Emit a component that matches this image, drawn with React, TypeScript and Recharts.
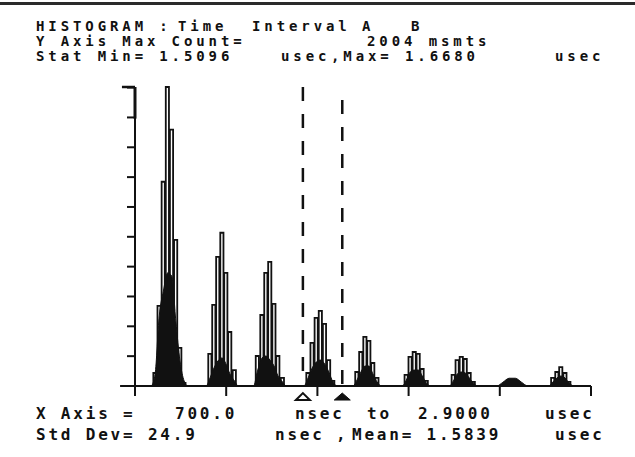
import React from "react";
import {
  ComposedChart,
  Bar,
  Area,
  XAxis,
  YAxis,
  ReferenceLine,
  ReferenceDot,
} from "recharts";

// Bin centres (ns), total counts per bin, and the dense (dark) part per bin
const binTimes = [
  780, 797, 817, 837, 857, 877, 897, 917, 937, 955,
  1043, 1062, 1081, 1100, 1120, 1139, 1158, 1180, 1198,
  1272, 1291, 1313, 1332, 1351, 1371, 1390, 1412, 1430,
  1515, 1535, 1555, 1575, 1595, 1615, 1635, 1655, 1675,
  1752, 1771, 1790, 1810, 1829, 1848, 1868, 1888,
  1990, 2009, 2028, 2048, 2067, 2086, 2106, 2125,
  2217, 2236, 2255, 2275, 2294, 2313, 2333, 2352,
  2445, 2475, 2505, 2535, 2565, 2595,
  2696, 2716, 2736, 2755, 2775, 2794, 2814,
];
const binCounts = [
  0, 87, 537, 1369, 2004, 1718, 980, 255, 20, 0,
  0, 215, 544, 866, 1027, 758, 362, 107, 0,
  0, 201, 476, 758, 832, 550, 201, 54, 0,
  0, 87, 289, 456, 503, 416, 174, 34, 0,
  0, 94, 228, 329, 302, 154, 54, 0,
  0, 74, 195, 228, 215, 114, 34, 0,
  0, 74, 174, 195, 181, 87, 27, 0,
  0, 0, 0, 0, 0, 0,
  0, 54, 94, 127, 87, 27, 0,
];
const denseCounts = [
  0, 80, 470, 637, 758, 738, 436, 168, 34, 0,
  0, 54, 121, 168, 188, 148, 81, 34, 0,
  0, 101, 188, 201, 174, 134, 67, 27, 0,
  0, 54, 121, 161, 174, 148, 94, 27, 0,
  0, 40, 94, 134, 134, 81, 27, 0,
  0, 40, 94, 107, 107, 67, 20, 0,
  0, 34, 81, 94, 87, 54, 20, 0,
  0, 25, 52, 52, 25, 0,
  0, 27, 54, 67, 54, 20, 0,
];

const xTicks = [700, 1140, 1580, 2020, 2460, 2900];
const yTicks = [0, 200, 400, 600, 800, 1000, 1200, 1400, 1600, 1800, 2000];
const gateStart = 1510;
const gateEnd = 1700;

const data = binTimes.map((t, i) => ({
  t,
  count: binCounts[i],
  dense: denseCounts[i],
}));

const headerTop = [
  { text: "HISTOGRAM :", x: 36, y: 31 },
  { text: "Time", x: 178, y: 31 },
  { text: "Interval", x: 252, y: 31 },
  { text: "A", x: 362, y: 31 },
  { text: "B", x: 411, y: 31 },
  { text: "Y Axis Max Count=", x: 36, y: 46 },
  { text: "2004 msmts", x: 367, y: 46 },
  { text: "Stat Min= 1.5096", x: 36, y: 61 },
  { text: "usec", x: 281, y: 61 },
  { text: ",Max= 1.6680", x: 331, y: 61 },
  { text: "usec", x: 555, y: 61 },
];
const footer = [
  { text: "X Axis =", x: 36, y: 419 },
  { text: "700.0", x: 175, y: 419 },
  { text: "nsec", x: 295, y: 419 },
  { text: "to", x: 367, y: 419 },
  { text: "2.9000", x: 418, y: 419 },
  { text: "usec", x: 545, y: 419 },
  { text: "Std Dev= 24.9", x: 36, y: 440 },
  { text: "nsec", x: 275, y: 440 },
  { text: ",", x: 336, y: 440 },
  { text: "Mean= 1.5839", x: 352, y: 440 },
  { text: "usec", x: 555, y: 440 },
];

const OpenTri = (props: any) => {
  const { cx, cy } = props;
  return (
    <polygon
      points={`${cx - 7},${cy + 3} ${cx},${cy - 4} ${cx + 7},${cy + 3}`}
      fill="#fff"
      stroke="#111"
      strokeWidth={2}
    />
  );
};
const FilledTri = (props: any) => {
  const { cx, cy } = props;
  return (
    <polygon
      points={`${cx - 8},${cy + 3} ${cx},${cy - 4} ${cx + 8},${cy + 3}`}
      fill="#111"
      stroke="#111"
      strokeWidth={1}
    />
  );
};

const EmptyTick = () => <g />;

export default function App() {
  const font = "'DejaVu Sans Mono', monospace";
  return (
    <div
      style={{
        position: "absolute",
        left: 0,
        top: 0,
        width: 635,
        height: 457,
        background: "#fff",
        overflow: "hidden",
      }}
    >
      <div style={{ position: "absolute", left: 0, top: 0 }}>
        <ComposedChart
          width={635}
          height={457}
          data={data}
          margin={{ top: 87, right: 44, bottom: 70, left: 134 }}
        >
          <XAxis
            dataKey="t"
            type="number"
            domain={[700, 2900]}
            ticks={xTicks}
            height={1}
            tickSize={10}
            tick={EmptyTick}
            axisLine={{ stroke: "#111", strokeWidth: 2 }}
            tickLine={{ stroke: "#111", strokeWidth: 2 }}
          />
          <YAxis
            type="number"
            domain={[0, 2004]}
            ticks={yTicks}
            width={1}
            tickSize={8}
            tick={EmptyTick}
            axisLine={{ stroke: "#111", strokeWidth: 2 }}
            tickLine={{ stroke: "#111", strokeWidth: 2 }}
          />
          <Bar
            dataKey="count"
            fill="#fff"
            stroke="#111"
            strokeWidth={1.8}
            barSize={4.5}
            isAnimationActive={false}
          />
          <Area
            dataKey="dense"
            type="monotone"
            fill="#111"
            fillOpacity={1}
            stroke="#111"
            strokeWidth={1}
            dot={false}
            activeDot={false}
            isAnimationActive={false}
            zIndex={350}
          />
          <ReferenceLine
            segment={[{ x: 628, y: 0 }, { x: 700, y: 0 }]}
            stroke="#111"
            strokeWidth={2}
            ifOverflow="visible"
          />
          <ReferenceLine
            segment={[{ x: 637, y: 2004 }, { x: 700, y: 2004 }]}
            stroke="#111"
            strokeWidth={2.5}
            ifOverflow="visible"
          />
          <ReferenceLine
            segment={[{ x: 700, y: 2004 }, { x: 700, y: 1792 }]}
            stroke="#111"
            strokeWidth={3}
            ifOverflow="visible"
          />
          <ReferenceLine
            segment={[{ x: gateStart, y: 2004 }, { x: gateStart, y: 54 }]}
            stroke="#111"
            strokeWidth={2.5}
            strokeDasharray="14 13"
            ifOverflow="visible"
          />
          <ReferenceLine
            segment={[{ x: gateEnd, y: 2004 }, { x: gateEnd, y: 0 }]}
            stroke="#111"
            strokeWidth={2.5}
            strokeDasharray="14 13"
            strokeDashoffset={14}
            ifOverflow="visible"
          />
          <ReferenceDot
            x={gateStart}
            y={-74}
            ifOverflow="visible"
            shape={OpenTri}
          />
          <ReferenceDot
            x={gateEnd}
            y={-74}
            ifOverflow="visible"
            shape={FilledTri}
          />
        </ComposedChart>
      </div>
      <svg
        width={635}
        height={457}
        style={{ position: "absolute", left: 0, top: 0, pointerEvents: "none" }}
      >
        <rect x={0} y={2} width={635} height={3} fill="#2a2a2a" />
        {headerTop.map((d, i) => (
          <text
            key={"h" + i}
            x={d.x}
            y={d.y}
            fontFamily={font}
            fontSize={14}
            fontWeight="bold"
            fill="#111"
            style={{ letterSpacing: "3.9px", whiteSpace: "pre" }}
          >
            {d.text}
          </text>
        ))}
        {footer.map((d, i) => (
          <text
            key={"f" + i}
            x={d.x}
            y={d.y}
            fontFamily={font}
            fontSize={16}
            fontWeight="bold"
            fill="#111"
            style={{ letterSpacing: "2.8px", whiteSpace: "pre" }}
          >
            {d.text}
          </text>
        ))}
      </svg>
    </div>
  );
}
